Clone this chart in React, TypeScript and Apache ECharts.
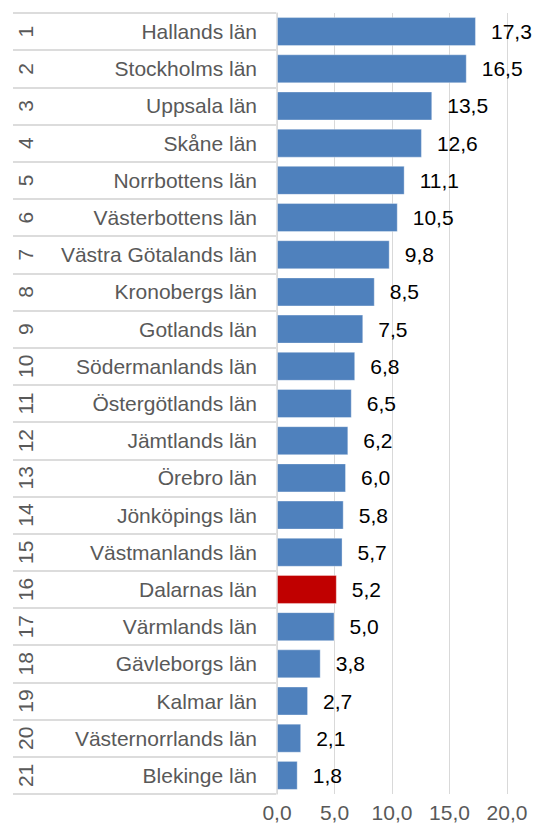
import React, { useEffect, useRef } from "react";
import * as echarts from "echarts";

const counties = [
  "Hallands län", "Stockholms län", "Uppsala län", "Skåne län", "Norrbottens län",
  "Västerbottens län", "Västra Götalands län", "Kronobergs län", "Gotlands län",
  "Södermanlands län", "Östergötlands län", "Jämtlands län", "Örebro län",
  "Jönköpings län", "Västmanlands län", "Dalarnas län", "Värmlands län",
  "Gävleborgs län", "Kalmar län", "Västernorrlands län", "Blekinge län",
];
const ranks = ["1","2","3","4","5","6","7","8","9","10","11","12","13","14","15","16","17","18","19","20","21"];
const values = [17.3, 16.5, 13.5, 12.6, 11.1, 10.5, 9.8, 8.5, 7.5, 6.8, 6.5, 6.2, 6.0, 5.8, 5.7, 5.2, 5.0, 3.8, 2.7, 2.1, 1.8];
const highlighted = "Dalarnas län";
const xTicks = { min: 0, max: 20, interval: 5 };

const fmt = (v: number) => v.toFixed(1).replace(".", ",");
const FONT = "Liberation Sans, Arial, sans-serif";

export default function App() {
  const ref = useRef<HTMLDivElement>(null);
  useEffect(() => {
    if (!ref.current) return;
    const chart = echarts.init(ref.current, undefined, { renderer: "svg" });
    chart.setOption({
      animation: false,
      textStyle: { fontFamily: FONT },
      grid: [
        { left: 277, right: 28, top: 13, bottom: 35 },
        { left: 13, width: 263, top: 13, bottom: 35 },
      ],
      xAxis: [
        {
          type: "value", gridIndex: 0, min: xTicks.min, max: xTicks.max, interval: xTicks.interval,
          axisLine: { show: false }, axisTick: { show: false },
          splitLine: { show: true, lineStyle: { color: "#d9d9d9", width: 1 } },
          axisLabel: { formatter: (v: number) => fmt(v), color: "#595959", fontSize: 21, fontFamily: FONT, margin: 8 },
        },
        { type: "value", gridIndex: 1, min: 0, max: 1, show: false },
      ],
      yAxis: [
        {
          type: "category", gridIndex: 0, data: counties, inverse: true,
          axisLine: { show: true, lineStyle: { color: "#d9d9d9", width: 1.5 } }, axisTick: { show: false },
          axisLabel: { color: "#595959", fontSize: 21, fontFamily: FONT, margin: 20, interval: 0 },
        },
        {
          type: "category", gridIndex: 1, data: ranks, inverse: true,
          axisLine: { show: false }, axisTick: { show: false },
          splitLine: { show: true, interval: 0, lineStyle: { color: "#dcdcdc", width: 2 } },
          axisLabel: { inside: true, rotate: 90, margin: 2, color: "#595959", fontSize: 21, fontFamily: FONT, interval: 0 },
        },
      ],
      series: [
        {
          type: "bar", xAxisIndex: 0, yAxisIndex: 0,
          data: values.map((v, i) => ({
            value: v,
            itemStyle: { color: counties[i] === highlighted ? "#c00000" : "#4f81bd" },
          })),
          barCategoryGap: "22%",
          itemStyle: { borderColor: "rgba(255,255,255,0.35)", borderWidth: 1 },
          label: {
            show: true, position: "right", distance: 15, color: "#000000",
            fontSize: 21, fontFamily: FONT, formatter: (p: any) => fmt(p.value),
          },
        },
      ],
    });
    return () => chart.dispose();
  }, []);
  return <div ref={ref} style={{ width: 535, height: 829, position: "absolute", left: 0, top: 0 }} />;
}
